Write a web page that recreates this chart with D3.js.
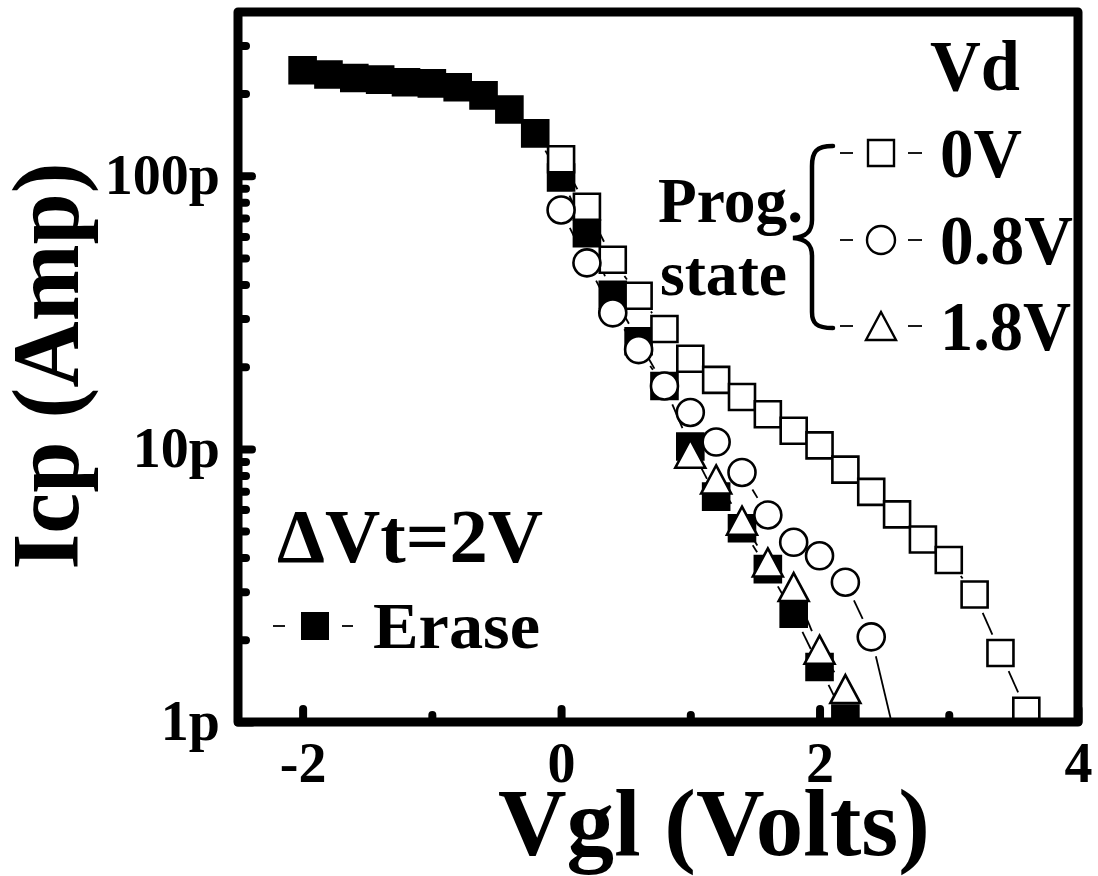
<!DOCTYPE html>
<html>
<head>
<meta charset="utf-8">
<script src="https://cdn.jsdelivr.net/npm/d3@7"></script>
<style>
  body { margin: 0; background: #fff; }
  text { font-family: "Liberation Serif", "Times New Roman", serif; font-weight: bold; fill: #000; }
</style>
</head>
<body>
<svg id="chart" width="1098" height="876"></svg>
<script>
// Vgl (V) and Icp (pA)
const vErase = [-2.0, -1.8, -1.6, -1.4, -1.2, -1.0, -0.8, -0.6, -0.4, -0.2, 0.0, 0.2, 0.4, 0.6, 0.8, 1.0, 1.2, 1.4, 1.6, 1.8, 2.0, 2.2];
const iErase = [243.6, 235, 228, 225, 220, 218, 211, 197, 175, 143, 98.6, 61.6, 36.7, 24.8, 17.0, 10.2, 6.69, 5.12, 3.63, 2.49, 1.59, 1.03];

const vProg0 = [0.0, 0.2, 0.4, 0.6, 0.8, 1.0, 1.2, 1.4, 1.6, 1.8, 2.0, 2.2, 2.4, 2.6, 2.8, 3.0, 3.2, 3.4, 3.6];
const iProg0 = [115, 77, 49.3, 36.4, 27.5, 21.4, 17.9, 15.5, 13.4, 11.65, 10.3, 8.4, 6.96, 5.76, 4.66, 3.92, 2.93, 1.79, 1.10];

const vProg08 = [0.0, 0.2, 0.4, 0.6, 0.8, 1.0, 1.2, 1.4, 1.6, 1.8, 2.0, 2.2, 2.4, 2.6];
const iProg08 = [75, 48, 31.5, 23.1, 17.0, 13.6, 10.6, 8.2, 5.73, 4.55, 4.06, 3.25, 2.05, 0.82];

const vProg18 = [1.0, 1.2, 1.4, 1.6, 1.8, 2.0, 2.2];
const iProg18 = [9.6, 7.73, 5.46, 3.84, 3.12, 1.84, 1.32];

const yMajor = [1, 10, 100];
const yMajorLabels = ["1p", "10p", "100p"];
const yMinor = [2, 3, 4, 5, 6, 7, 8, 9, 20, 30, 40, 50, 60, 70, 80, 90, 200, 300];
const xMajor = [-2, 0, 2, 4];
const xMinor = [-1, 1, 3];
const vdLabels = ["0V", "0.8V", "1.8V"];

const plotLeft = 238, plotRight = 1078, plotTop = 12, plotBottom = 722;

const svg = d3.select('#chart');

const x = d3.scaleLinear().domain([-2.5, 4.0]).range([plotLeft, plotRight]);
const y = d3.scaleLog().domain([1, 398]).range([plotBottom, plotTop]);

svg.append("defs").append("clipPath").attr("id", "plotclip")
    .append("rect")
    .attr("x", plotLeft).attr("y", plotTop)
    .attr("width", plotRight - plotLeft).attr("height", plotBottom - plotTop);

const plot = svg.append("g").attr("clip-path", "url(#plotclip)");

// segments with a gap around each marker
function drawLine(vs, is) {
    const trim = 20;
    const pts = vs.map((v, i) => [x(v), y(is[i])]);
    const segs = [];
    for (let i = 0; i < pts.length - 1; i++) {
        const dx = pts[i + 1][0] - pts[i][0], dy = pts[i + 1][1] - pts[i][1];
        const d = Math.sqrt(dx * dx + dy * dy);
        if (d <= 2 * trim + 2) continue;
        const ux = dx / d, uy = dy / d;
        segs.push([pts[i][0] + ux * trim, pts[i][1] + uy * trim,
                   pts[i + 1][0] - ux * trim, pts[i + 1][1] - uy * trim]);
    }
    plot.append("g").selectAll("line")
        .data(segs)
        .enter()
        .append("line")
        .attr("x1", d => d[0]).attr("y1", d => d[1])
        .attr("x2", d => d[2]).attr("y2", d => d[3])
        .attr("stroke", "#000")
        .attr("stroke-width", 1.8);
}

const squarePath = "M-13,-13H13V13H-13Z";
const trianglePath = "M0,-14L15,14L-15,14Z";

function drawMarkers(vs, is, shape, fill) {
    const g = plot.append("g");
    const sel = g.selectAll(".m")
        .data(vs)
        .enter();
    if (shape === "circle") {
        sel.append("circle")
            .attr("cx", d => x(d))
            .attr("cy", (d, i) => y(is[i]))
            .attr("r", 13.5)
            .attr("fill", fill).attr("stroke", "#000").attr("stroke-width", 2.6);
    } else {
        sel.append("path")
            .attr("d", shape === "square" ? squarePath : trianglePath)
            .attr("transform", (d, i) => "translate(" + x(d) + "," + y(is[i]) + ")")
            .attr("fill", fill).attr("stroke", "#000").attr("stroke-width", 2.6);
    }
}

drawLine(vErase, iErase);
drawMarkers(vErase, iErase, "square", "#000");
drawLine(vProg0, iProg0);
drawMarkers(vProg0, iProg0, "square", "#fff");
drawLine(vProg08, iProg08);
drawMarkers(vProg08, iProg08, "circle", "#fff");
drawLine(vProg18, iProg18);
drawMarkers(vProg18, iProg18, "triangle", "#fff");

// axes: inward ticks with round caps
function styleAxis(g) {
    g.select(".domain").remove();
    g.selectAll(".tick line").attr("stroke", "#000").attr("stroke-width", 8).attr("stroke-linecap", "round");
    g.selectAll(".tick text").style("font-size", "56px");
}

svg.append("g")
    .attr("transform", "translate(" + plotLeft + ",0)")
    .call(d3.axisLeft(y).tickValues(yMajor).tickSize(-14).tickPadding(18)
        .tickFormat((d, i) => yMajorLabels[i]))
    .call(styleAxis)
    .selectAll(".tick text").attr("dy", "0.32em");

svg.append("g")
    .attr("transform", "translate(" + plotLeft + ",0)")
    .call(d3.axisLeft(y).tickValues(yMinor).tickSize(-8).tickFormat(""))
    .call(styleAxis);

svg.append("g")
    .attr("transform", "translate(0," + plotBottom + ")")
    .call(d3.axisBottom(x).tickValues(xMajor).tickSize(-13).tickPadding(20)
        .tickFormat(d => String(d)))
    .call(styleAxis);

svg.append("g")
    .attr("transform", "translate(0," + plotBottom + ")")
    .call(d3.axisBottom(x).tickValues(xMinor).tickSize(-7).tickFormat(""))
    .call(styleAxis);

// frame
svg.append("rect")
    .attr("x", plotLeft).attr("y", plotTop)
    .attr("width", plotRight - plotLeft).attr("height", plotBottom - plotTop)
    .attr("fill", "none").attr("stroke", "#000")
    .attr("stroke-width", 9).attr("stroke-linejoin", "round");

// axis titles
svg.append("text")
    .attr("x", 714).attr("y", 855)
    .attr("text-anchor", "middle")
    .attr("textLength", 432).attr("lengthAdjust", "spacingAndGlyphs")
    .style("font-size", "95px")
    .text("Vgl (Volts)");

svg.append("text")
    .attr("transform", "translate(78,366) rotate(-90)")
    .attr("text-anchor", "middle")
    .attr("textLength", 407).attr("lengthAdjust", "spacingAndGlyphs")
    .style("font-size", "95px")
    .text("Icp (Amp)");

// legend, top right
function label(txt, lx, ly, size, len) {
    svg.append("text")
        .attr("x", lx).attr("y", ly)
        .attr("textLength", len).attr("lengthAdjust", "spacingAndGlyphs")
        .style("font-size", size + "px")
        .text(txt);
}

label("Vd", 930, 90, 72, 90);
label("Prog.", 658, 222, 63, 145);
label("state", 660, 295, 63, 127);

svg.append("path")
    .attr("d", "M833,146 C816,146 812,152 812,166 L812,220 C812,232 806,237 793,238 C806,239 812,244 812,256 L812,312 C812,323 816,328 833,328")
    .attr("fill", "none").attr("stroke", "#000").attr("stroke-width", 4.5)
    .attr("stroke-linecap", "round");

const legRows = [153, 240, 326];
const legShapes = ["square", "circle", "triangle"];
const legLens = [82, 133, 131];
legRows.forEach((ly, i) => {
    [[840, 853], [908, 922]].forEach(s => {
        svg.append("line").attr("x1", s[0]).attr("x2", s[1]).attr("y1", ly).attr("y2", ly)
            .attr("stroke", "#000").attr("stroke-width", 1.8);
    });
    if (legShapes[i] === "circle") {
        svg.append("circle").attr("cx", 881).attr("cy", ly).attr("r", 14)
            .attr("fill", "#fff").attr("stroke", "#000").attr("stroke-width", 2.4);
    } else {
        svg.append("path")
            .attr("d", legShapes[i] === "square" ? squarePath : trianglePath)
            .attr("transform", "translate(881," + ly + ")")
            .attr("fill", "#fff").attr("stroke", "#000").attr("stroke-width", 2.4);
    }
    label(vdLabels[i], 940, ly + 24, 70, legLens[i]);
});

// legend, bottom left
label("\u0394Vt=2V", 277, 562, 77, 266);
[[273, 285], [342, 353]].forEach(s => {
    svg.append("line").attr("x1", s[0]).attr("x2", s[1]).attr("y1", 626).attr("y2", 626)
        .attr("stroke", "#000").attr("stroke-width", 1.8);
});
svg.append("path").attr("d", squarePath).attr("transform", "translate(315,626)")
    .attr("fill", "#000").attr("stroke", "#000").attr("stroke-width", 2);
label("Erase", 373, 648, 66, 167);
</script>
</body>
</html>
